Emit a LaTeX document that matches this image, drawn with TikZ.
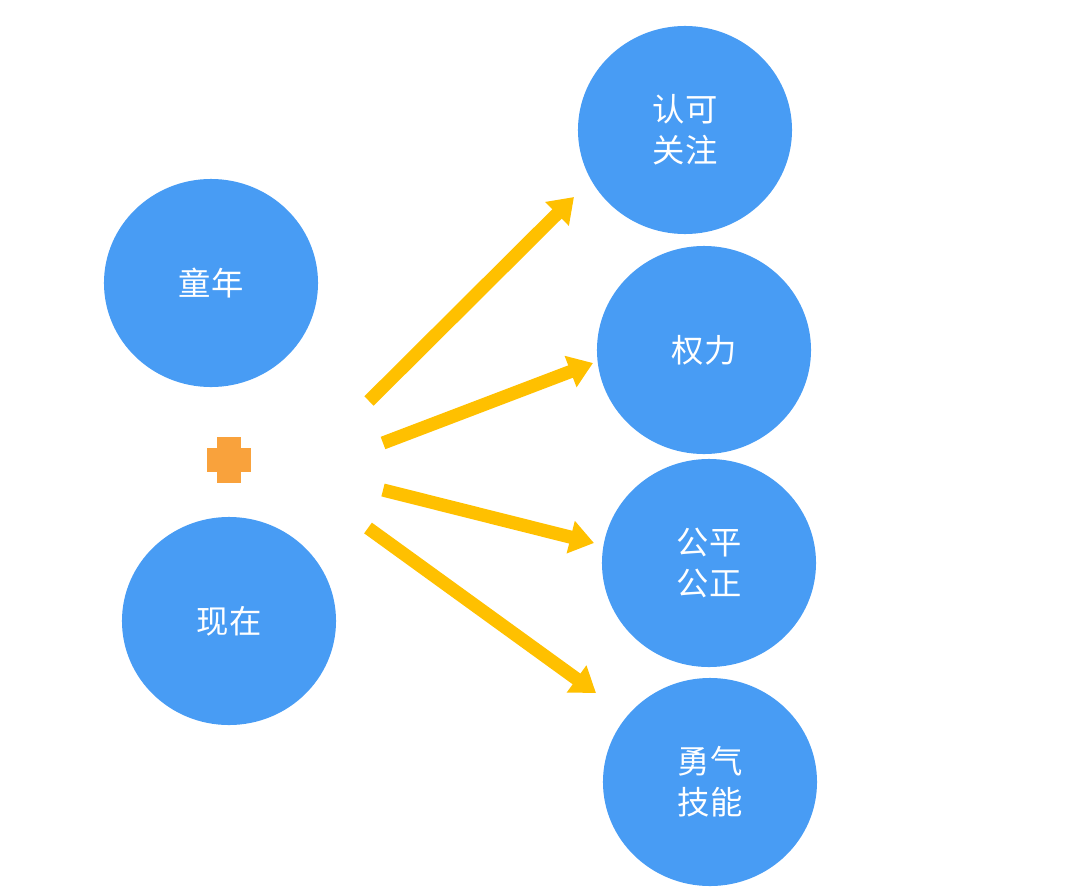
\documentclass[tikz,border=0pt]{standalone}
\usepackage{fontspec}
\newfontfamily\cjk{Noto Sans CJK SC}
\usepackage{tikz}
\usetikzlibrary{arrows.meta, shapes.geometric, positioning}

\definecolor{bubbleblue}{HTML}{489CF4}
\definecolor{arrowgold}{HTML}{FFC000}
\definecolor{plusorange}{HTML}{F9A23C}

\tikzset{
  bubble/.style = {
    ellipse,
    fill = bubbleblue,
    text = white,
    inner sep = 0pt,
    minimum width = 5.35cm,
    minimum height = 5.2cm,
    align = center,
    font = \cjk\fontsize{23}{29}\selectfont,
  },
  pointer/.style = {
    draw = arrowgold,
    line width = 0.33cm,
    -{Triangle[width = 0.8cm, length = 0.6cm]},
  },
}

\begin{document}
\begin{tikzpicture}[x = 0.025cm, y = -0.025cm]
        \useasboundingbox (0,0) rectangle (1080,888);

        \node [bubble] (childhood) at (211,283) {童年};
        \node [bubble] (present)   at (229,621) {现在};

        \node [bubble] (recognition) at (685,130) {认可\\关注};
        \node [bubble] (power)       at (704,350) {权力};
        \node [bubble] (fairness)    at (709,563) {公平\\公正};
        \node [bubble] (courage)     at (710,782) {勇气\\技能};

        % the plus between the two left bubbles
        \coordinate (plus) at (229,460);
        \fill [plusorange] ([xshift = -0.55cm, yshift = -0.31cm] plus) rectangle
          ([xshift = 0.55cm, yshift = 0.31cm] plus);
        \fill [plusorange] ([xshift = -0.31cm, yshift = -0.58cm] plus) rectangle
          ([xshift = 0.31cm, yshift = 0.58cm] plus);

        \coordinate (tail 1) at (369,401);
        \coordinate (tail 2) at (383,443);
        \coordinate (tail 3) at (383,490);
        \coordinate (tail 4) at (368,528);

        \coordinate (head 1) at (574,197);
        \coordinate (head 2) at (593,363);
        \coordinate (head 3) at (594,543);
        \coordinate (head 4) at (596,693);

        \draw [pointer] (tail 1) to (head 1);
        \draw [pointer] (tail 2) to (head 2);
        \draw [pointer] (tail 3) to (head 3);
        \draw [pointer] (tail 4) to (head 4);
      \end{tikzpicture}
\end{document}
